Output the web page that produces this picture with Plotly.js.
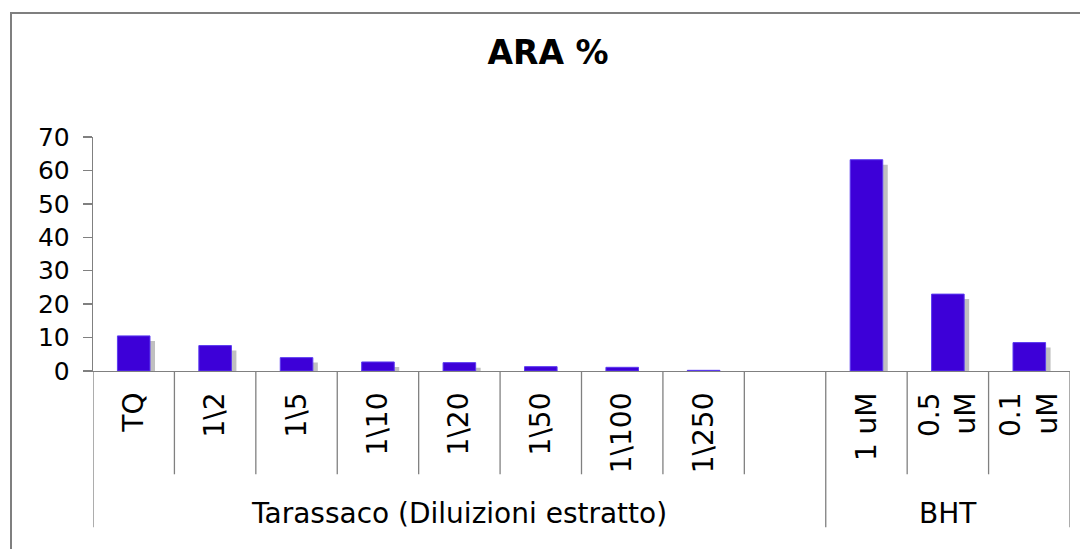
<!DOCTYPE html>
<html>
<head>
<meta charset="utf-8">
<script src="https://cdn.plot.ly/plotly-3.0.1.min.js"></script>
<style>
  html, body { margin: 0; padding: 0; background: #ffffff; }
  #frame { position: absolute; left: 10px; top: 12px; width: 1100px; height: 600px;
           border-left: 2px solid #7f7f7f; border-top: 2px solid #7f7f7f; }
  #chart { position: absolute; left: 0; top: 0; width: 1080px; height: 549px; }
</style>
</head>
<body>
<div id="frame"></div>
<div id="chart"></div>
<script>
// ---- data ----
var categories = ['TQ', '1\\2', '1\\5', '1\\10', '1\\20', '1\\50', '1\\100', '1\\250', ' ', '1 uM', '0.5 uM', '0.1 uM'];
var tickLabels = ['TQ', '1\\2', '1\\5', '1\\10', '1\\20', '1\\50', '1\\100', '1\\250', '', '1 uM', '0.5<br>uM', '0.1<br>uM'];
var araValues = [10.5, 7.6, 4.0, 2.7, 2.5, 1.3, 1.1, 0.2, null, 63.2, 23.0, 8.5];
var groupNames = ['Tarassaco (Diluizioni estratto)', 'BHT'];
var groupSizes = [9, 3];
var yTicks = [0, 10, 20, 30, 40, 50, 60, 70];

// ---- layout constants ----
var W = 1080, H = 549;
var mL = 93, mR = 10, mT = 137, mB = 177.5;
var plotH = H - mT - mB;
var font = 'Verdana, "DejaVu Sans", sans-serif';
var shadowDownPx = 5, shadowRightPx = 5;
var catPx = (W - mL - mR) / categories.length;
var yUnitPerPx = 70 / plotH;
var barW = 0.40;

var shadow = {
  type: 'bar', x: categories, y: araValues,
  base: -shadowDownPx * yUnitPerPx,
  width: barW, offset: -barW / 2 + shadowRightPx / catPx,
  marker: { color: '#c0c0c0', line: { width: 0 } },
  hoverinfo: 'skip', showlegend: false
};
var bars = {
  type: 'bar', x: categories, y: araValues,
  width: barW, offset: -barW / 2,
  marker: { color: '#3d00d8', line: { width: 1, color: '#5b3af0' } },
  showlegend: false
};

// divider lines below the axis
var shapes = [];
var innerBottom = (371.5 - 475) / plotH;
var groupBottom = (371.5 - 528) / plotH;
var groupEdges = [-0.5];
var acc = -0.5;
groupSizes.forEach(function (n) { acc += n; groupEdges.push(acc); });
for (var i = 0; i <= categories.length; i++) {
  var xb = i - 0.5;
  var isGroup = groupEdges.indexOf(xb) >= 0;
  shapes.push({
    type: 'line', xref: 'x', yref: 'paper', x0: xb, x1: xb, y0: 0,
    y1: isGroup ? groupBottom : innerBottom,
    line: { color: '#808080', width: 1.3 }
  });
}

var annotations = [];
var start = 0;
groupSizes.forEach(function (n, k) {
  annotations.push({
    xref: 'x', yref: 'paper', x: start + (n - 1) / 2, y: (371.5 - 514) / plotH,
    text: groupNames[k], showarrow: false, xanchor: 'center', yanchor: 'middle',
    font: { family: font, size: 28, color: '#000000' }
  });
  start += n;
});

var layout = {
  width: W, height: H,
  margin: { l: mL, r: mR, t: mT, b: mB, pad: 0 },
  paper_bgcolor: 'rgba(0,0,0,0)', plot_bgcolor: 'rgba(0,0,0,0)',
  barmode: 'overlay',
  title: { text: '<b>ARA %</b>', xref: 'container', x: 548 / W, y: 1 - 52 / H,
           xanchor: 'center', yanchor: 'middle',
           font: { family: font, size: 33, color: '#000000' } },
  xaxis: {
    type: 'category', categoryorder: 'array', categoryarray: categories,
    tickvals: categories, ticktext: tickLabels,
    range: [-0.5, categories.length - 0.5],
    tickangle: -90, ticks: '', showgrid: false, zeroline: false,
    showline: true, linecolor: '#808080', linewidth: 1.3,
    tickfont: { family: font, size: 28, color: '#000000' },
    ticklabelstandoff: 9,
    fixedrange: true
  },
  yaxis: {
    range: [0, 70], tickvals: yTicks, ticktext: yTicks.map(String),
    ticks: 'outside', ticklen: 9, tickcolor: '#808080', tickwidth: 1.3,
    showline: true, linecolor: '#808080', linewidth: 1.3,
    showgrid: false, zeroline: false,
    tickfont: { family: font, size: 25, color: '#000000' },
    ticklabelstandoff: 8,
    fixedrange: true
  },
  shapes: shapes,
  annotations: annotations,
  font: { family: font }
};

Plotly.newPlot('chart', [shadow, bars], layout, { displayModeBar: false, staticPlot: true });
</script>
</body>
</html>
